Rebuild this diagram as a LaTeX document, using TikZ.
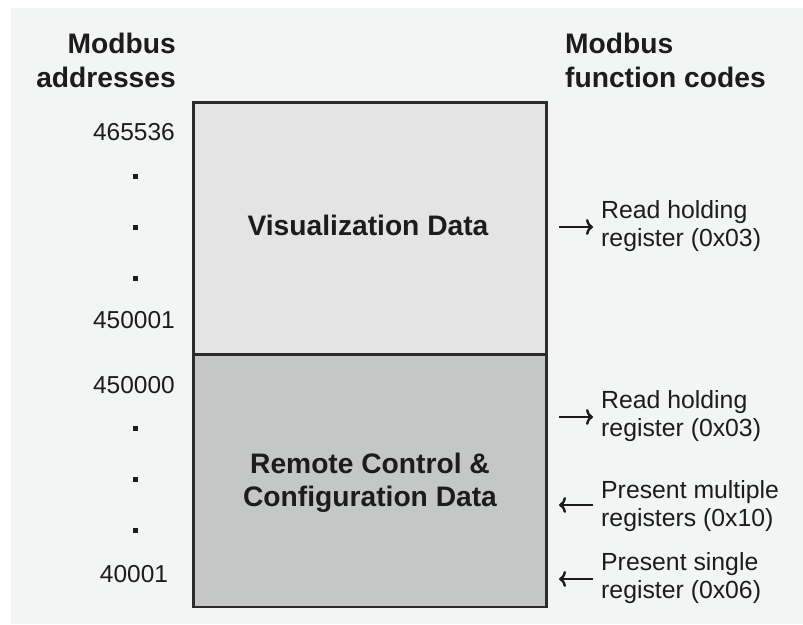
\documentclass[tikz,border=0pt]{standalone}
\usepackage{fontspec}
\setmainfont{Liberation Sans}
\usetikzlibrary{arrows.meta}
\definecolor{bgcol}{HTML}{F3F5F5}
\definecolor{viscol}{HTML}{E4E4E4}
\definecolor{remcol}{HTML}{C5C7C7}
\definecolor{edgecol}{HTML}{2B2B2B}
\definecolor{inkcol}{HTML}{1C1C1C}
\tikzset{
  hdr/.style={inner sep=0pt, text=inkcol, font=\fontsize{28.2}{34}\selectfont\bfseries},
  boxtitle/.style={inner sep=0pt, text=inkcol, align=center, font=\fontsize{28.2}{33}\selectfont\bfseries},
  addr/.style={inner sep=0pt, text=inkcol, anchor=base, font=\fontsize{24.5}{28}\selectfont},
  fcode/.style={inner sep=0pt, text=inkcol, anchor=north west, align=left, font=\fontsize{24.8}{28}\selectfont},
  regbox/.style={draw=edgecol, line width=2.6pt, anchor=north west, minimum width=353pt, minimum height=252pt, inner sep=0pt},
  dotmark/.style={fill=inkcol, inner sep=0pt, minimum size=5pt},
  arr/.style={draw=inkcol, line width=2.4pt, -{To[length=7pt,width=16pt]}}
}
\begin{document}
\begin{tikzpicture}[x=1pt,y=-1pt]
\useasboundingbox (0,0) rectangle (803,624);
\fill[bgcol] (11,8) rectangle (803,624);
% headers
\node[hdr, anchor=north east, align=right] (hl) at (176,33) {Modbus\\addresses};
\node[hdr, anchor=north west, align=left] (hr) at (565,33) {Modbus\\function codes};
% boxes
\node[regbox, fill=viscol] (vis) at (192,101) {};
\node[regbox, fill=remcol] (rem) at (192,353.5) {};
\node[boxtitle, anchor=base] (vist) at (368,235) {Visualization Data};
\node[boxtitle] (remt) at (370,482.5) {Remote Control \&\\Configuration Data};
% addresses
\node[addr] (n1) at (134,140) {465536};
\node[addr] (n2) at (134,328) {450001};
\node[addr] (n3) at (134,393) {450000};
\node[addr] (n4) at (134,582) {40001};
\node[dotmark] (d1) at (135,176) {};
\node[dotmark] (d2) at (135,227) {};
\node[dotmark] (d3) at (135,278) {};
\node[dotmark] (d4) at (135,428) {};
\node[dotmark] (d5) at (135,479) {};
\node[dotmark] (d6) at (135,530) {};
% function codes
\node[fcode] (f1) at (601,200) {Read holding\\register (0x03)};
\node[fcode] (f2) at (601,390) {Read holding\\register (0x03)};
\node[fcode] (f3) at (601,480) {Present multiple\\registers (0x10)};
\node[fcode] (f4) at (601,552) {Present single\\register (0x06)};
\coordinate (a1l) at (559,227); \coordinate (a1r) at (593,227);
\coordinate (a2l) at (559,417); \coordinate (a2r) at (593,417);
\coordinate (a3l) at (559,505); \coordinate (a3r) at (593,505);
\coordinate (a4l) at (559,579); \coordinate (a4r) at (593,579);
\draw[arr] (a1l) -- (a1r);
\draw[arr] (a2l) -- (a2r);
\draw[arr] (a3r) -- (a3l);
\draw[arr] (a4r) -- (a4l);
\end{tikzpicture}
\end{document}
